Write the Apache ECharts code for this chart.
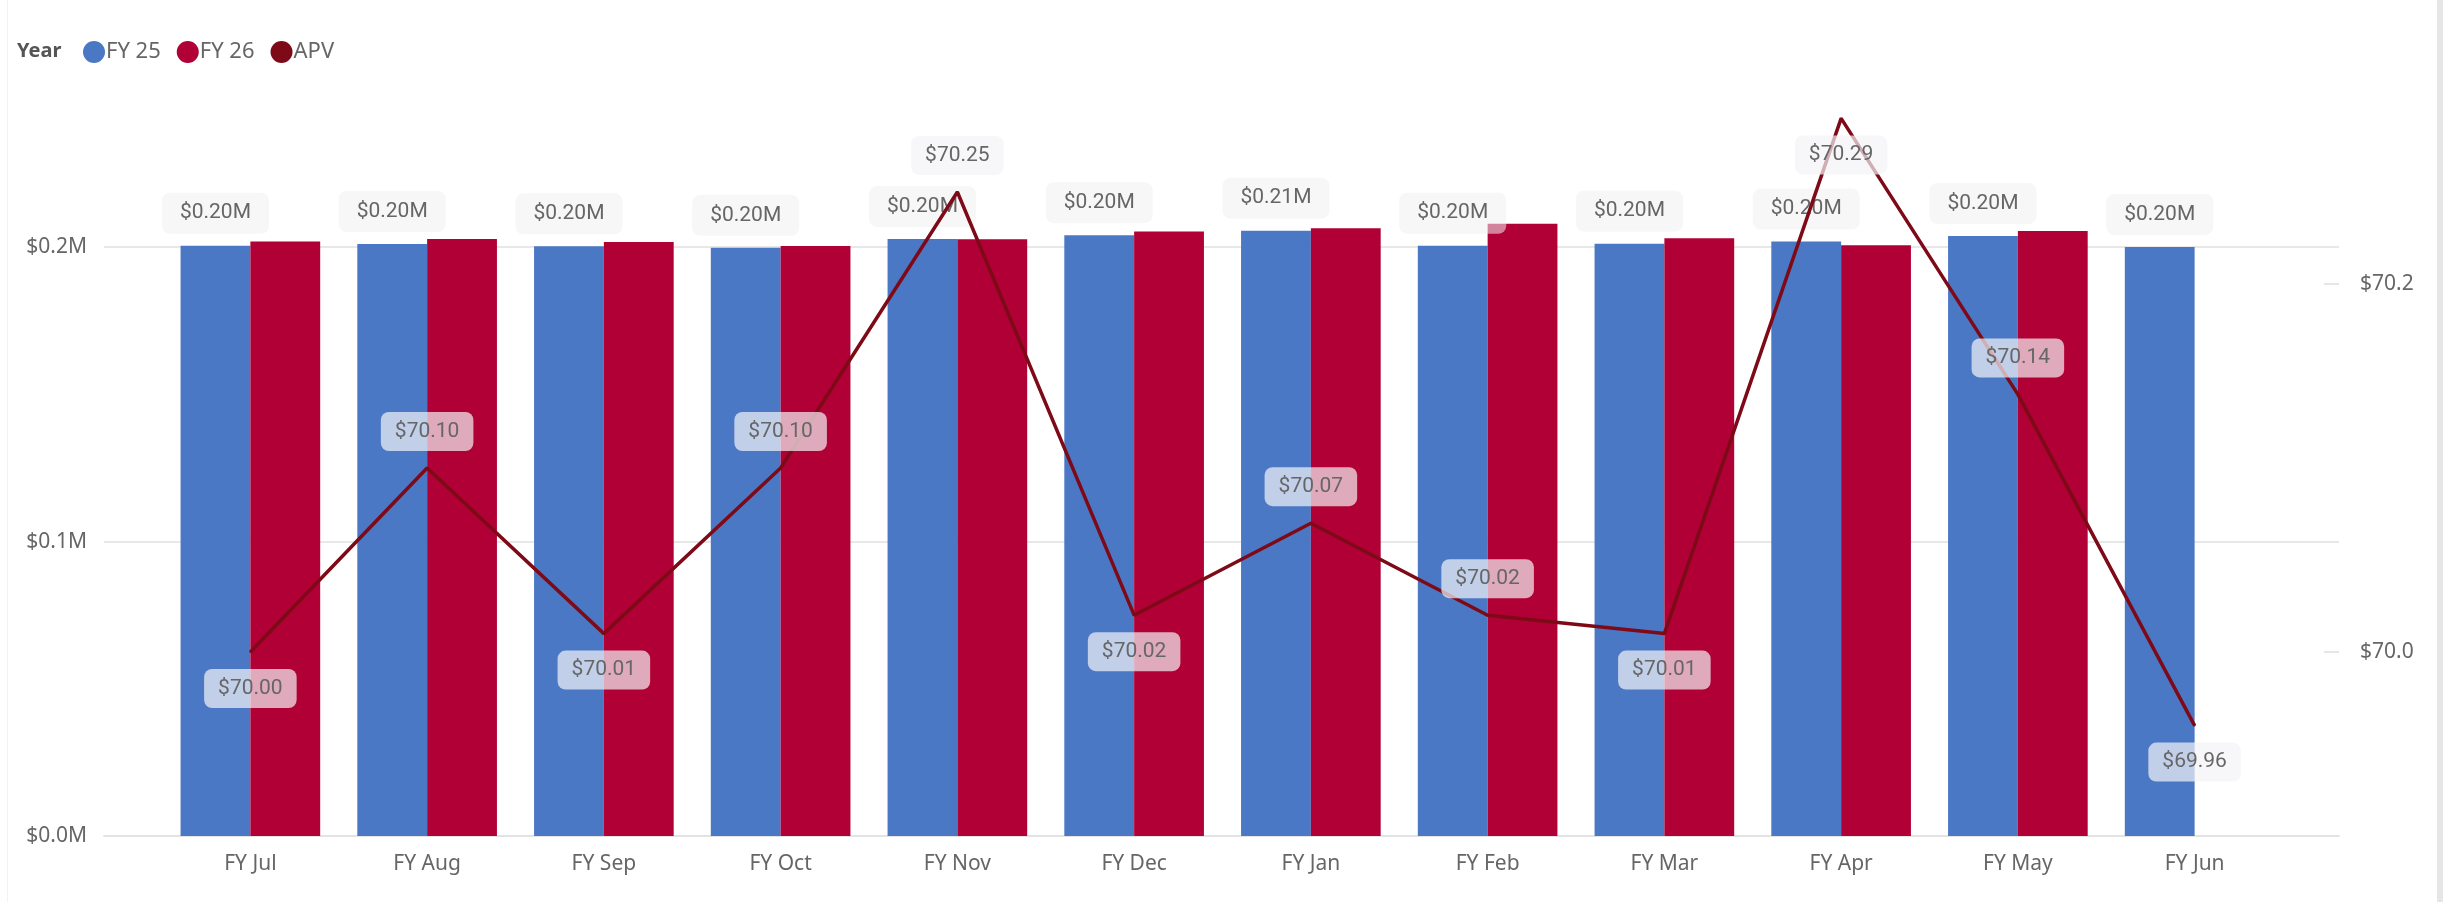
<!DOCTYPE html>
<html>
<head>
<meta charset="utf-8">
<title>APV by month</title>
<script src="https://cdn.jsdelivr.net/npm/echarts@6.0.0/dist/echarts.min.js"></script>
<style>
  html, body { margin: 0; padding: 0; background: #fff; }
  #main { width: 2450px; height: 902px; }
  .edgeL { position: absolute; left: 7px; top: 0; width: 1px; height: 902px; background: #f2f2f2; }
  .edgeR { position: absolute; left: 2437px; top: 0; width: 6px; height: 902px; background: #e6e6e6; }
</style>
</head>
<body>
<div id="main"></div>
<div class="edgeL"></div>
<div class="edgeR"></div>
<script>
  // months on the x axis
  var months = ['FY Jul', 'FY Aug', 'FY Sep', 'FY Oct', 'FY Nov', 'FY Dec',
                'FY Jan', 'FY Feb', 'FY Mar', 'FY Apr', 'FY May', 'FY Jun'];
  // revenue in $M
  var fy25 = [0.2005, 0.2011, 0.2003, 0.1998, 0.2028, 0.2041, 0.2056, 0.2005, 0.2012, 0.2019, 0.2038, 0.2001];
  var fy26 = [0.2019, 0.2028, 0.2018, 0.2004, 0.2027, 0.2053, 0.2064, 0.2080, 0.2030, 0.2007, 0.2055, null];
  // average price value
  var apv = [70.00, 70.10, 70.01, 70.10, 70.25, 70.02, 70.07, 70.02, 70.01, 70.29, 70.14, 69.96];
  var rightTicks = [70.0, 70.2];

  // where the APV label sits for each point
  var apvSide = ['bottom', 'top', 'bottom', 'top', 'top', 'bottom',
                 'top', 'top', 'bottom', 'bottom', 'top', 'bottom'];

  var txt = '#666666';
  var axisFont = 'Noto Sans';
  var labelFont = 'Roboto';
  var apvRange = [69.9, 70.3];

  var apvData = apv.map(function (v, i) {
    return { value: v, label: { position: apvSide[i] } };
  });

  var chart = echarts.init(document.getElementById('main'));
  var option = {
    animation: false,
    title: {
      text: 'Year',
      left: 12,
      top: 36,
      textStyle: { fontFamily: axisFont, fontSize: 20, fontWeight: 'bold', color: '#555' }
    },
    legend: {
      left: 78,
      top: 36,
      itemWidth: 22,
      itemHeight: 22,
      itemGap: 16,
      icon: 'circle',
      textStyle: { fontFamily: axisFont, fontSize: 22, color: txt, padding: [0, 0, 0, -4] },
      data: ['FY 25', 'FY 26', 'APV']
    },
    // grid 0 holds the bars and line, grid 1 is the wider frame (gridlines, right ticks)
    grid: [
      { left: 162, right: 167, top: 100, bottom: 66 },
      { left: 104, right: 111, top: 100, bottom: 66 }
    ],
    xAxis: [
      {
        type: 'category',
        gridIndex: 0,
        data: months,
        axisTick: { show: false },
        axisLine: { show: false },
        axisLabel: { fontFamily: axisFont, fontSize: 21, color: txt, margin: 18 }
      },
      {
        type: 'value',
        gridIndex: 1,
        min: 0,
        max: 1,
        axisTick: { show: false },
        axisLabel: { show: false },
        splitLine: { show: false },
        axisLine: { show: true, lineStyle: { color: '#e3e3e3', width: 2 } }
      }
    ],
    yAxis: [
      {
        type: 'value',
        gridIndex: 0,
        min: 0,
        max: 0.25,
        interval: 0.1,
        axisLine: { show: false },
        axisTick: { show: false },
        axisLabel: {
          fontFamily: axisFont, fontSize: 21, color: txt, margin: 75,
          showMaxLabel: false,
          formatter: function (v) { return '$' + v.toFixed(1) + 'M'; }
        },
        splitLine: { show: false }
      },
      {
        type: 'value',
        gridIndex: 0,
        min: apvRange[0],
        max: apvRange[1],
        position: 'right',
        show: false
      },
      {
        type: 'value',
        gridIndex: 1,
        min: 0,
        max: 0.25,
        interval: 0.1,
        axisLine: { show: false },
        axisTick: { show: false },
        axisLabel: { show: false },
        splitLine: { showMaxLine: false, lineStyle: { color: '#e8e8e8', width: 2 } }
      },
      {
        type: 'value',
        gridIndex: 1,
        min: apvRange[0],
        max: apvRange[1],
        position: 'right',
        axisLine: { show: false },
        splitLine: { show: false },
        axisTick: { show: true, inside: true, length: 15, customValues: rightTicks, lineStyle: { color: '#e6e6e6', width: 2 } },
        axisLabel: {
          fontFamily: axisFont, fontSize: 21, color: txt, margin: 21,
          customValues: rightTicks,
          formatter: function (v) { return '$' + v.toFixed(1); }
        }
      }
    ],
    series: [
      {
        name: 'FY 25',
        type: 'bar',
        data: fy25,
        barGap: '0%',
        barCategoryGap: '21%',
        itemStyle: { color: '#4B78C5' },
        label: {
          show: true,
          position: 'top',
          distance: 12,
          fontFamily: labelFont,
          fontSize: 21,
          color: txt,
          backgroundColor: 'rgba(240,240,240,0.55)',
          borderRadius: 8,
          padding: [10, 18],
          formatter: function (p) { return '$' + p.value.toFixed(2) + 'M'; }
        }
      },
      {
        name: 'FY 26',
        type: 'bar',
        data: fy26,
        itemStyle: { color: '#B00035' }
      },
      {
        name: 'APV',
        type: 'line',
        yAxisIndex: 1,
        data: apvData,
        symbol: 'circle',
        symbolSize: 2,
        lineStyle: { color: '#7E0A17', width: 3.5 },
        itemStyle: { color: '#7E0A17' },
        z: 5,
        label: {
          show: true,
          distance: 16,
          fontFamily: labelFont,
          fontSize: 21,
          color: txt,
          backgroundColor: 'rgba(244,244,246,0.7)',
          borderRadius: 8,
          padding: [9, 14],
          formatter: function (p) { return '$' + p.value.toFixed(2); }
        }
      }
    ]
  };
  chart.setOption(option);
</script>
</body>
</html>
